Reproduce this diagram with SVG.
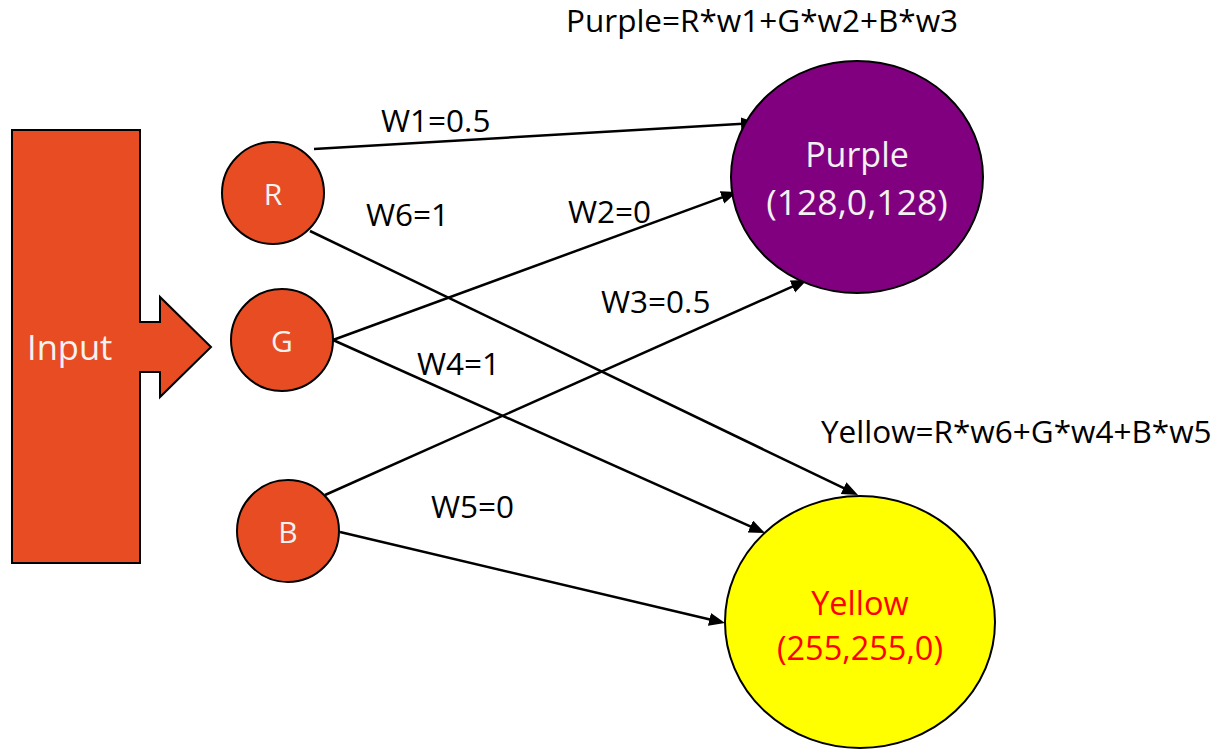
<svg xmlns="http://www.w3.org/2000/svg" width="1218" height="751" viewBox="0 0 1218 751">
  <style>
    text { font-family: "Open Sans", "Liberation Sans", sans-serif; }
    .lbl { font-size: 31.5px; fill: #000; }
    .nodefill { fill: #e84c22; stroke: #000; stroke-width: 2; }
    .nodetxt { font-size: 30px; fill: #f2f2f2; text-anchor: middle; }
    .edge { stroke: #000; stroke-width: 2.5; fill: none; marker-end: url(#arrow); }
  </style>
  <defs>
    <marker id="arrow" markerUnits="userSpaceOnUse" markerWidth="18" markerHeight="14" refX="6" refY="6.5" orient="auto">
      <path d="M0,0 L16,6.5 L0,13 Z" fill="#000"/>
    </marker>
  </defs>

  <rect width="1218" height="751" fill="#fff"/>

  <!-- input block arrow -->
  <g id="input">
    <path d="M12,130 H140 V322 H160 V297 L211,347 L160,397 V372 H140 V563 H12 Z" fill="#e84c22" stroke="#000" stroke-width="2"/>
    <text x="27" y="360" font-size="34.5" fill="#f2f2f2">Input</text>
  </g>

  <!-- weighted connections -->
  <g id="connectors">
    <line class="edge" x1="314" y1="149" x2="747" y2="123.6"/>
    <line class="edge" x1="333" y1="340" x2="727.6" y2="195.4"/>
    <line class="edge" x1="325" y1="495" x2="797.9" y2="284.1"/>
    <line class="edge" x1="310" y1="231" x2="849" y2="490.7"/>
    <line class="edge" x1="333" y1="340" x2="755.9" y2="528.9"/>
    <line class="edge" x1="340" y1="532" x2="715.3" y2="620.7"/>
    <text class="lbl" x="381" y="132">W1=0.5</text>
    <text class="lbl" x="568" y="223">W2=0</text>
    <text class="lbl" x="601" y="313">W3=0.5</text>
    <text class="lbl" x="417" y="375">W4=1</text>
    <text class="lbl" x="431" y="518">W5=0</text>
    <text class="lbl" x="366" y="226">W6=1</text>
  </g>

  <!-- input neurons -->
  <g id="node-r">
    <circle class="nodefill" cx="273" cy="193" r="51"/>
    <text class="nodetxt" x="273" y="205">R</text>
  </g>
  <g id="node-g">
    <circle class="nodefill" cx="282" cy="340" r="51"/>
    <text class="nodetxt" x="282" y="352">G</text>
  </g>
  <g id="node-b">
    <circle class="nodefill" cx="288" cy="531" r="51"/>
    <text class="nodetxt" x="288" y="543">B</text>
  </g>

  <!-- output neurons -->
  <g id="node-purple">
    <ellipse cx="857" cy="177" rx="126" ry="116" fill="#800080" stroke="#000" stroke-width="2"/>
    <text x="857" y="167" font-size="34" fill="#f2f2f2" text-anchor="middle">Purple</text>
    <text x="857" y="215" font-size="35.5" fill="#f2f2f2" text-anchor="middle">(128,0,128)</text>
    <text class="lbl" x="566" y="32">Purple=R*w1+G*w2+B*w3</text>
  </g>
  <g id="node-yellow">
    <ellipse cx="860" cy="622" rx="135" ry="126" fill="#ffff00" stroke="#000" stroke-width="2"/>
    <text x="860" y="615" font-size="32.5" fill="#ff0000" text-anchor="middle">Yellow</text>
    <text x="860" y="660" font-size="32.5" fill="#ff0000" text-anchor="middle">(255,255,0)</text>
    <text class="lbl" x="821" y="443">Yellow=R*w6+G*w4+B*w5</text>
  </g>
</svg>
